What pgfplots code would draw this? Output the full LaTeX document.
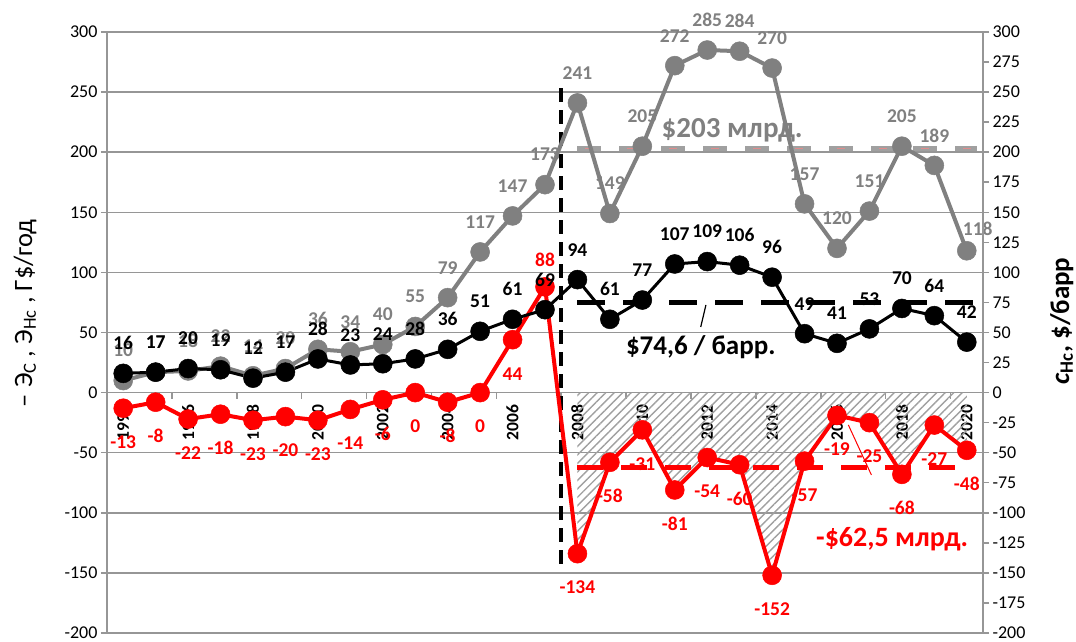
\documentclass[border=0pt]{standalone}
\usepackage{pgfplots}
\pgfplotsset{compat=1.18}
\usepackage{pgfplotstable}
\usepackage{fontspec}
\setmainfont{Carlito}
\usetikzlibrary{patterns.meta}
\definecolor{sgray}{RGB}{128,128,128}
\definecolor{lgray}{RGB}{160,160,160}
\definecolor{ggrid}{RGB}{150,150,150}
\definecolor{sred}{RGB}{255,0,0}
\definecolor{pinkd}{RGB}{225,140,140}
\tikzset{lbl/.style={font=\bfseries\fontsize{19.5}{20}\selectfont, anchor=center}}

\pgfplotstableread{
x y lab
0 10 10
1 17 17
2 18 18
3 22 22
4 14 14
5 20 20
6 36 36
7 34 34
8 40 40
9 55 55
10 79 79
11 117 117
12 147 147
13 173 173
14 241 241
15 149 149
16 205 205
17 272 272
18 285 285
19 284 284
20 270 270
21 157 157
22 120 120
23 151 151
24 205 205
25 189 189
26 118 {}
}\graydata

\pgfplotstableread{
x y lab
0 16 16
1 17 17
2 20 20
3 19 19
4 12 12
5 17 17
6 28 28
7 23 23
8 24 24
9 28 28
10 36 36
11 51 51
12 61 61
13 69 69
14 94 94
15 61 61
16 77 77
17 107 107
18 109 109
19 106 106
20 96 96
21 49 49
22 41 41
23 53 53
24 70 70
25 64 64
26 42 42
}\blackdata

\pgfplotstableread{
x y lab
0 -13 -13
1 -8 -8
2 -22 -22
3 -18 -18
4 -23 -23
5 -20 -20
6 -23 -23
7 -14 -14
8 -6 -6
9 0 0
10 -8 -8
11 0 0
12 44 44
13 88 {}
14 -134 -134
15 -58 -58
16 -31 -31
17 -81 -81
18 -54 -54
19 -60 -60
20 -152 -152
21 -57 -57
22 -19 -19
23 -25 -25
24 -68 -68
25 -27 -27
26 -48 -48
}\reddata

\begin{document}
\begin{tikzpicture}
\useasboundingbox (-107pt,-9pt) rectangle (969pt,633pt);
\begin{axis}[
  at={(0pt,0pt)}, anchor=south west,
  scale only axis, width=876pt, height=601pt,
  xmin=-0.5, xmax=26.5, ymin=-200, ymax=300,
  clip=false,
  axis x line*=middle, axis y line*=left,
  axis line style={ggrid, line width=1.5pt, -},
  tick align=outside,
  ytick={-200,-150,...,300},
  ymajorgrids, grid style={ggrid, line width=1.5pt},
  major tick length=6pt,
  tick style={ggrid, line width=1.5pt},
  xtick={1.5,3.5,...,25.5}, xticklabels={},
  extra x ticks={0,2,...,26},
  extra x tick labels={1994,1996,1998,2000,2002,2004,2006,2008,2010,2012,2014,2016,2018,2020},
  extra x tick style={major tick length=0pt, tick label style={font=\bfseries\fontsize{17.5}{18}\selectfont, rotate=90, anchor=east}},
  xticklabel shift=9pt,
  yticklabel style={font=\fontsize{18}{20}\selectfont},
  /pgf/number format/assume math mode=true,
]
% hatched area
\addplot[draw=none, restrict x to domain=14:26, pattern={Lines[angle=45,distance=6pt,line width=1.4pt]}, pattern color=lgray] table[x=x,y=y] {\reddata} \closedcycle;

% average lines
\draw[lgray, line width=5pt, dash pattern=on 24pt off 18pt] (axis cs:14,203) -- (axis cs:26.3,203);
\draw[pinkd, line width=1.2pt, dash pattern=on 8pt off 34pt, dash phase=-8pt] (axis cs:14,203) -- (axis cs:26.3,203);
\draw[black, line width=5pt, dash pattern=on 28pt off 18pt] (axis cs:14,74.6) -- (axis cs:26.25,74.6);
\draw[sred, line width=4.5pt, dash pattern=on 26pt off 18pt] (axis cs:14,-62.5) -- (axis cs:25.8,-62.5);
\draw[black, line width=4pt, dash pattern=on 14pt off 8pt] (axis cs:13.5,253) -- (axis cs:13.5,-146);

% series
\addplot[sgray, line width=4pt, mark=*, mark size=9.5pt,
  mark options={fill=sgray, draw=sgray, line width=0.5pt},
  point meta=explicit symbolic, nodes near coords,
  nodes near coords style={lbl, text=sgray, yshift=30pt}]
  table[x=x,y=y,meta=lab] {\graydata};
\addplot[draw=none, no marks, point meta=explicit symbolic, nodes near coords,
  nodes near coords style={lbl, text=sgray, xshift=11pt, yshift=22pt}]
  coordinates {(26,118)[118]};

\addplot[sred, line width=4pt, mark=*, mark size=9.5pt,
  mark options={fill=sred, draw=sred, line width=0.5pt},
  point meta=explicit symbolic, nodes near coords,
  nodes near coords style={lbl, text=sred, yshift=-34pt}]
  table[x=x,y=y,meta=lab] {\reddata};
\addplot[draw=none, no marks, point meta=explicit symbolic, nodes near coords,
  nodes near coords style={lbl, text=sred, yshift=27pt}]
  coordinates {(13,88)[88]};

\addplot[black, line width=3pt, mark=*, mark size=9.5pt,
  mark options={fill=black, draw=black, line width=0.5pt},
  point meta=explicit symbolic, nodes near coords,
  nodes near coords style={lbl, text=black, yshift=30pt}]
  table[x=x,y=y,meta=lab] {\blackdata};

% annotations
\node[text=sgray, font=\bfseries\fontsize{29}{30}\selectfont] at (axis cs:18.77,218.5) {\$203 млрд.};
\node[text=black, font=\bfseries\fontsize{27}{28}\selectfont] at (axis cs:17.8,37.5) {\$74,6 / барр.};
\node[text=sred, font=\bfseries\fontsize{28}{29}\selectfont] at (axis cs:23.7,-121.8) {-\$62,5 млрд.};
\draw[black, line width=1.2pt] (axis cs:17.96,72.9) -- (axis cs:17.8,54.6);
\draw[sred, line width=1pt] (axis cs:22.35,-26.9) -- (axis cs:23.06,-68.5);

% axis titles
\node[rotate=90, font=\fontsize{26.5}{28}\selectfont] at (rel axis cs:-0.0936,0.532) {– Э\textsubscript{С} , Э\textsubscript{Нс} , Г\$/год};
\node[rotate=90, font=\bfseries\fontsize{27}{28}\selectfont] at (rel axis cs:1.090,0.519) {\textit{c}\textsubscript{Нс}, \$/барр};
\end{axis}

\begin{axis}[
  at={(0pt,0pt)}, anchor=south west,
  scale only axis, width=876pt, height=601pt,
  xmin=-0.5, xmax=26.5, ymin=-200, ymax=300,
  axis x line=none, axis y line*=right,
  axis line style={ggrid, line width=1.5pt, -},
  ytick={-200,-175,...,300},
  tick align=outside, major tick length=6pt,
  tick style={ggrid, line width=1.5pt},
  yticklabel style={font=\fontsize{18}{20}\selectfont},
  /pgf/number format/assume math mode=true,
]
\end{axis}
\end{tikzpicture}
\end{document}
